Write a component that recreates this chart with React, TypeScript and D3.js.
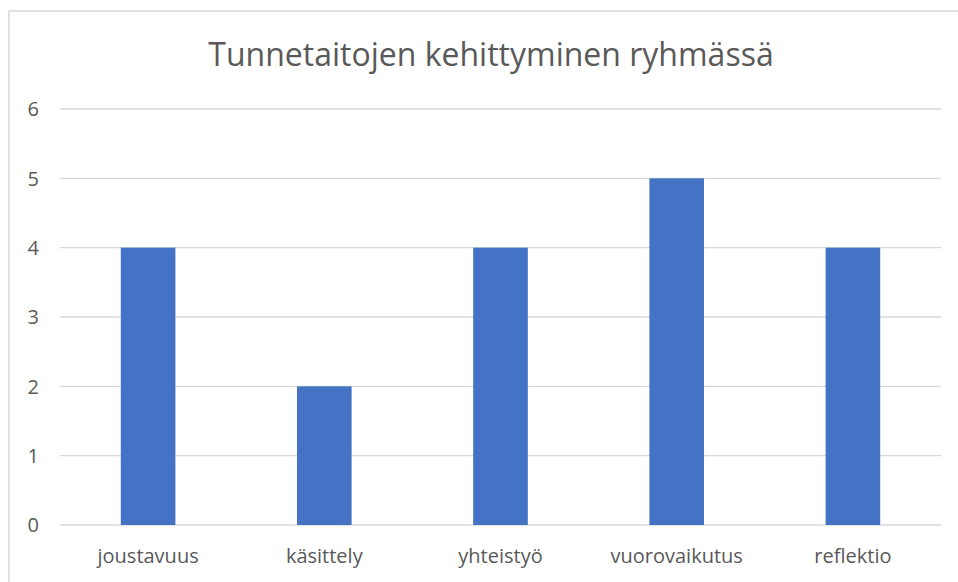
import React from "react";
import * as d3 from "d3";

const categories = ["joustavuus", "käsittely", "yhteistyö", "vuorovaikutus", "reflektio"];
const values = [4, 2, 4, 5, 4];
const yTicks = [0, 1, 2, 3, 4, 5, 6];
const title = "Tunnetaitojen kehittyminen ryhmässä";

export default function App() {
  const W = 958, H = 582;
  const left = 60, right = 941, top = 109, bottom = 525;
  const x = d3.scaleBand<string>().domain(categories).range([left, right]).paddingInner(0.69).paddingOuter(0.345);
  const y = d3.scaleLinear().domain([0, 6]).range([bottom, top]);
  const font = "'Open Sans', 'Noto Sans', sans-serif";
  const textColor = "#595959";
  return (
    <svg width={W} height={H} style={{ position: "absolute", left: 0, top: 0, background: "#fff" }}>
      <rect x={9} y={11} width={W + 20} height={H + 20} fill="#fff" stroke="#d9d9d9" strokeWidth={1.5} />
      <text x={491} y={66} textAnchor="middle" fontFamily={font} fontSize={32} fill={textColor}>{title}</text>
      {yTicks.map((t) => (
        <g key={t}>
          <line x1={left} x2={right} y1={y(t)} y2={y(t)} stroke="#d9d9d9" strokeWidth={1.3} />
          <text x={39} y={y(t)} dy="0.36em" textAnchor="end" fontFamily={font} fontSize={20} fill={textColor}>{t}</text>
        </g>
      ))}
      {categories.map((c, i) => (
        <rect key={c} x={x(c)} y={y(values[i])} width={x.bandwidth()} height={y(0) - y(values[i])} fill="#4472C4" />
      ))}
      {categories.map((c) => (
        <text key={c} x={(x(c) as number) + x.bandwidth() / 2} y={563} textAnchor="middle" fontFamily={font} fontSize={20} fill={textColor}>{c}</text>
      ))}
    </svg>
  );
}
